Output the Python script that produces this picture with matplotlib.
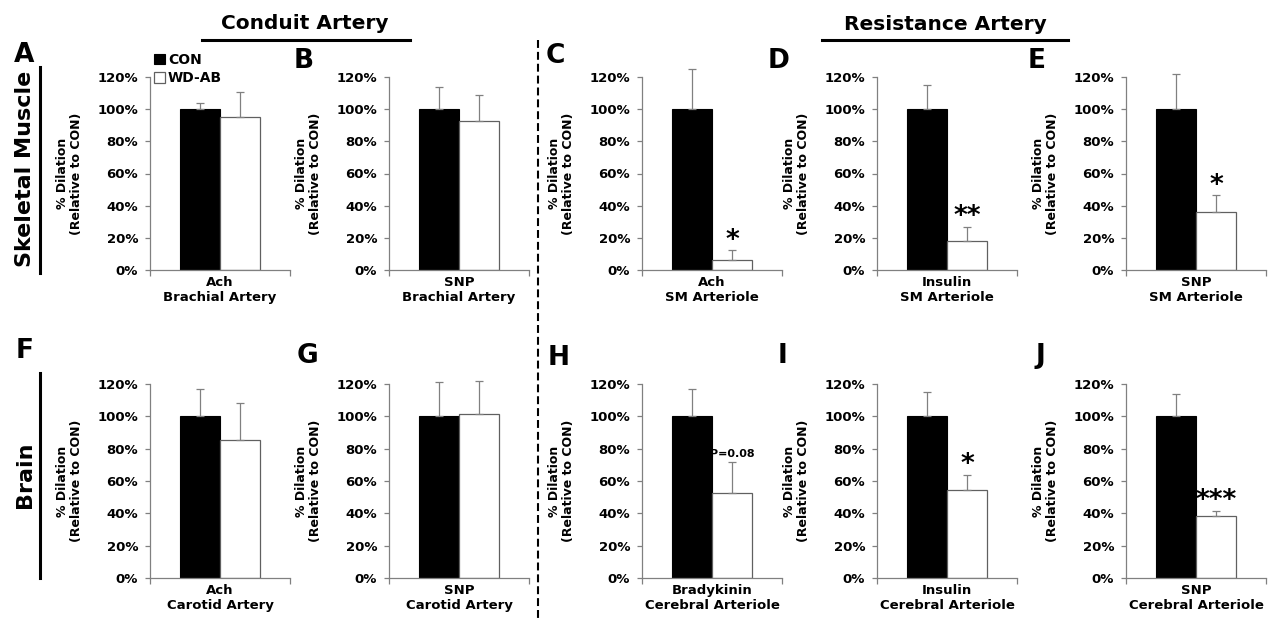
import matplotlib
matplotlib.use('Agg')
import matplotlib.pyplot as plt
from matplotlib.lines import Line2D

# values (% dilation relative to CON)
panel_ids = ['A', 'B', 'C', 'D', 'E', 'F', 'G', 'H', 'I', 'J']
treatments = ['Ach', 'SNP', 'Ach', 'Insulin', 'SNP',
              'Ach', 'SNP', 'Bradykinin', 'Insulin', 'SNP']
vessels = ['Brachial Artery', 'Brachial Artery', 'SM Arteriole', 'SM Arteriole', 'SM Arteriole',
           'Carotid Artery', 'Carotid Artery', 'Cerebral Arteriole', 'Cerebral Arteriole',
           'Cerebral Arteriole']
con_mean = [100, 100, 100, 100, 100, 100, 100, 100, 100, 100]
con_err = [3.7, 14, 25, 15, 21.7, 17, 21.4, 17, 15, 13.6]
wd_mean = [95, 92.5, 6, 18, 36, 85.5, 101.5, 52.5, 54.5, 38.5]
wd_err = [15.5, 16.5, 6.3, 9, 10.5, 22.5, 20.5, 19.5, 9.3, 3.1]
marks = ['', '', '*', '**', '*', '', '', 'P=0.08', '*', '***']
yticks = [0, 20, 40, 60, 80, 100, 120]

plt.rcParams['font.family'] = ['DejaVu Sans']
plt.rcParams['font.weight'] = 'bold'
plt.rcParams['axes.labelweight'] = 'bold'

W, H = 1273, 623
fig = plt.figure(figsize=(W / 100, H / 100), dpi=100)

def fx(px):
    return px / W

def fy(py):
    return 1 - py / H

grey = '#808080'
lefts = [150, 389, 642, 877, 1126]
rows = [(77, 270), (384, 578)]
letter_pos = [(24, 62), (304, 68), (555, 63), (779, 68), (1037, 68),
              (25, 358), (308, 363), (559, 365), (782, 363), (1040, 363)]

for i in range(10):
    r, c = divmod(i, 5)
    top, bot = rows[r]
    ax = fig.add_axes([fx(lefts[c]), fy(bot), fx(140), (bot - top) / H])
    ax.bar(-0.2, con_mean[i], 0.4, color='black', edgecolor='black', linewidth=0.8, label='CON')
    ax.bar(0.2, wd_mean[i], 0.4, color='white', edgecolor='#606060', linewidth=0.9, label='WD-AB')
    for xpos, m, e in [(-0.2, con_mean[i], con_err[i]), (0.2, wd_mean[i], wd_err[i])]:
        eb = ax.errorbar(xpos, m, yerr=[[0], [e]], fmt='none', ecolor=grey,
                         elinewidth=0.9, capsize=3, capthick=0.9)
        for a in eb.get_children():
            a.set_clip_on(False)
    if marks[i]:
        if marks[i].startswith('P'):
            ax.text(0.2, wd_mean[i] + wd_err[i] + 3, marks[i], ha='center', va='baseline', fontsize=8)
        else:
            ax.text(0.2, wd_mean[i] + wd_err[i] + 1.5, marks[i], ha='center', va='baseline', fontsize=19)
    ax.set_xlim(-0.7, 0.7)
    ax.set_ylim(0, 120)
    ax.set_yticks(yticks)
    ax.set_yticklabels(['%d%%' % t for t in yticks])
    ax.set_xticks([0])
    ax.set_xticklabels([treatments[i] + '\n' + vessels[i]])
    ax.set_xticks([-0.7, 0.7], minor=True)
    ax.tick_params(axis='y', direction='out', length=3.5, width=0.9, color=grey, labelsize=9.5, pad=5)
    ax.tick_params(axis='x', which='major', length=0, labelsize=9.5, pad=4)
    ax.tick_params(axis='x', which='minor', direction='out', length=4, width=0.9, color=grey)
    for s in ['top', 'right']:
        ax.spines[s].set_visible(False)
    for s in ['left', 'bottom']:
        ax.spines[s].set_color(grey)
        ax.spines[s].set_linewidth(0.9)
    ax.set_ylabel('% Dilation\n(Relative to CON)', fontsize=9, fontweight='bold', linespacing=1.05)
    ax.yaxis.set_label_coords(-0.48, 0.5)
    fig.text(fx(letter_pos[i][0]), fy(letter_pos[i][1]), panel_ids[i], ha='center', va='baseline',
             fontsize=19)
    if i == 0:
        ax.legend(loc='upper left', bbox_to_anchor=(fx(154), fy(53)), bbox_transform=fig.transFigure,
                  frameon=False, fontsize=10, handlelength=0.8, handleheight=0.8,
                  handletextpad=0.2, borderpad=0, borderaxespad=0, labelspacing=0.3)

# section headers
fig.text(fx(305), fy(29), 'Conduit Artery', ha='center', va='baseline', fontsize=14.5)
fig.text(fx(945), fy(30), 'Resistance Artery', ha='center', va='baseline', fontsize=14.5)
fig.add_artist(Line2D([fx(202), fx(410)], [fy(40), fy(40)], color='black', lw=2.2))
fig.add_artist(Line2D([fx(822), fx(1068)], [fy(40), fy(40)], color='black', lw=2.2))

# row labels
fig.text(fx(25), fy(169), 'Skeletal Muscle', rotation=90, ha='center', va='center', fontsize=16)
fig.text(fx(25), fy(475), 'Brain', rotation=90, ha='center', va='center', fontsize=16)
fig.add_artist(Line2D([fx(40), fx(40)], [fy(67), fy(273)], color='black', lw=2.2))
fig.add_artist(Line2D([fx(40), fx(40)], [fy(373), fy(578)], color='black', lw=2.2))

# divider between conduit and resistance arteries
fig.add_artist(Line2D([fx(538), fx(538)], [fy(40), fy(620)], color='black', lw=1.5,
                      linestyle=(0, (3.8, 1.9))))

fig.savefig('out.png', dpi=100)
